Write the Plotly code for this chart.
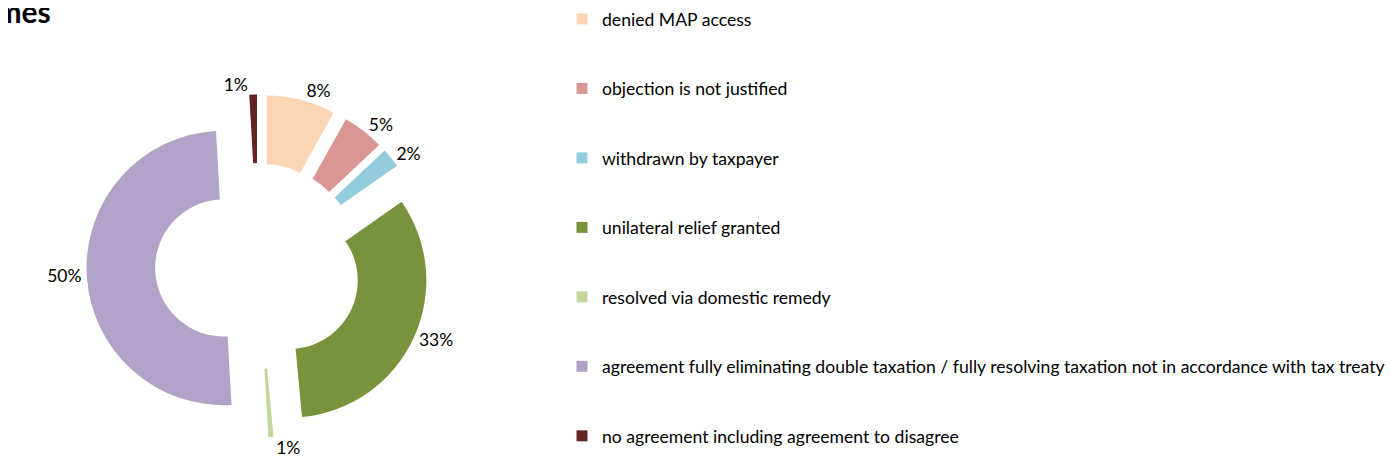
import plotly.graph_objects as go

categories = [
    "denied MAP access",
    "objection is not justified",
    "withdrawn by taxpayer",
    "unilateral relief granted",
    "resolved via domestic remedy",
    "agreement fully eliminating double taxation / fully resolving taxation not in accordance with tax treaty",
    "no agreement including agreement to disagree",
]
shares = [8.1, 4.9, 2.3, 33.2, 0.6, 50.0, 0.9]
colors = ["#FCD5B5", "#D99694", "#93CDDD", "#77933C", "#C3D69B", "#B3A2C7", "#632523"]
title_text = "Outcomes"

W, H = 1394, 472
FONT = "Lato"

fig = go.Figure()
fig.add_trace(go.Pie(
    labels=categories,
    values=shares,
    marker=dict(colors=colors, line=dict(width=0)),
    hole=0.5,
    pull=[0.25] * len(shares),
    sort=False,
    direction="clockwise",
    rotation=0,
    texttemplate="%{percent:.0%}",
    textposition="outside",
    textfont=dict(family=FONT, size=17.5, color="#000000"),
    showlegend=False,
    domain=dict(x=[78.5 / W, 421.5 / W], y=[42.5 / H, 385.5 / H]),
    hoverinfo="label+percent",
))

# legend entries (one group per category so the entries can be spaced)
for cat, col in zip(categories, colors):
    fig.add_trace(go.Scatter(
        x=[None], y=[None], mode="markers",
        marker=dict(symbol="square", size=11, color=col),
        name=cat, legendgroup=cat, showlegend=True, hoverinfo="skip",
    ))

fig.add_annotation(
    text="<b>" + title_text + "</b>",
    xref="paper", yref="paper",
    x=45 / W, y=1 - 2.5 / H,
    xanchor="right", yanchor="middle",
    showarrow=False,
    font=dict(family=FONT, size=30, color="#000000"),
)

fig.update_layout(
    width=W, height=H,
    margin=dict(l=0, r=0, t=0, b=0, autoexpand=False),
    paper_bgcolor="white",
    plot_bgcolor="white",
    xaxis=dict(visible=False),
    yaxis=dict(visible=False),
    legend=dict(
        x=554 / W, y=1 + 7 / H, xanchor="left", yanchor="top",
        font=dict(family=FONT, size=17.6, color="#000000"),
        tracegroupgap=43.6,
        maxheight=472,
        bgcolor="rgba(0,0,0,0)",
    ),
)

fig.write_html("out.html")
